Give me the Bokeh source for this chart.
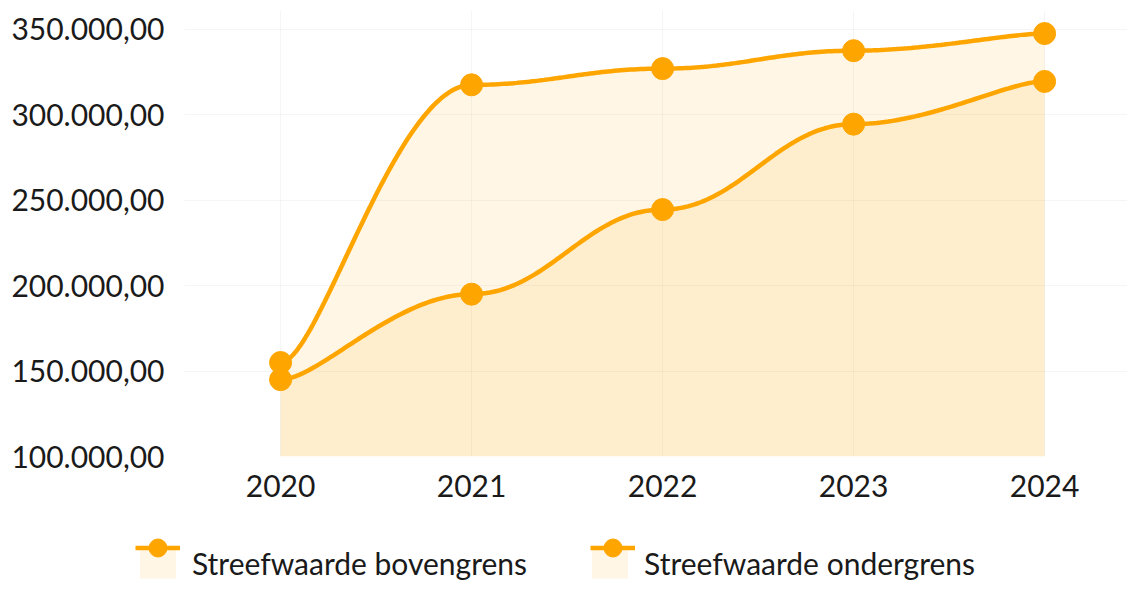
import numpy as np
from bokeh.plotting import figure
from bokeh.layouts import column
from bokeh.models import Range1d, FixedTicker, Legend, LegendItem, ColumnDataSource
from bokeh.embed import file_html
from bokeh.resources import INLINE

# ---- data ----
years = [2020, 2021, 2022, 2023, 2024]
year_labels = ["2020", "2021", "2022", "2023", "2024"]
bovengrens = [155000, 317500, 327000, 337500, 347500]
ondergrens = [145000, 195000, 244500, 294500, 319500]
y_ticks = [100000, 150000, 200000, 250000, 300000, 350000]
y_tick_labels = ["100.000,00", "150.000,00", "200.000,00", "250.000,00", "300.000,00", "350.000,00"]
series_names = ["Streefwaarde bovengrens", "Streefwaarde ondergrens"]
baseline = 100000

ORANGE = "#ffa500"
FONT = "Lato"


def tension_curve(xs, ys, tension_x=0.8, n=60):
    """Smoothed rendering (horizontal-tension spline) through the data points."""
    xs = np.asarray(xs, float)
    ys = np.asarray(ys, float)
    N = len(xs)
    T = 1 - tension_x
    px, py = [], []
    for i in range(N - 1):
        i0 = max(i - 1, 0)
        i3 = min(i + 2, N - 1)
        x0, y0 = xs[i], ys[i]
        x3, y3 = xs[i + 1], ys[i + 1]
        x1 = x0 + T * (xs[i + 1] - xs[i0])
        x2 = x3 - T * (xs[i3] - xs[i])
        y1, y2 = y0, y3
        t = np.linspace(0, 1, n, endpoint=(i == N - 2))
        a, b, c, d = (1 - t) ** 3, 3 * (1 - t) ** 2 * t, 3 * (1 - t) * t ** 2, t ** 3
        px.extend(a * x0 + b * x1 + c * x2 + d * x3)
        py.extend(a * y0 + b * y1 + c * y2 + d * y3)
    return np.array(px), np.array(py)


p = figure(
    frame_width=943, frame_height=446,
    min_border_left=184, min_border_right=0, min_border_top=10, min_border_bottom=70,
    x_range=Range1d(2019.497, 2024.434), y_range=Range1d(100000, 361000),
    output_backend="svg", toolbar_location=None,
)
p.outline_line_color = None
p.background_fill_color = "white"

# grid
p.xgrid.ticker = FixedTicker(ticks=years)
p.ygrid.ticker = FixedTicker(ticks=y_ticks)
for g in (p.xgrid, p.ygrid):
    g.grid_line_color = "#000000"
    g.grid_line_alpha = 0.04
    g.grid_line_width = 1

# axes
p.xaxis.ticker = FixedTicker(ticks=years)
p.xaxis.major_label_overrides = {y: l for y, l in zip(years, year_labels)}
p.yaxis.ticker = FixedTicker(ticks=y_ticks)
p.yaxis.major_label_overrides = {t: l for t, l in zip(y_ticks, y_tick_labels)}
for ax in (p.xaxis, p.yaxis):
    ax.axis_line_color = None
    ax.major_tick_line_color = None
    ax.minor_tick_line_color = None
    ax.major_tick_out = 0
    ax.major_tick_in = 0
    ax.major_label_text_font = FONT
    ax.major_label_text_font_size = "30px"
    ax.major_label_text_color = "#1a1a1a"
p.yaxis.major_label_standoff = 20
p.xaxis.major_label_standoff = 18

sources = []
for vals in [bovengrens, ondergrens]:
    cx, cy = tension_curve(years, vals)
    sources.append(ColumnDataSource(dict(x=cx, y=cy, y0=np.full_like(cy, baseline))))

for src in sources:
    p.varea(x="x", y1="y0", y2="y", source=src, fill_color=ORANGE, fill_alpha=0.1)
for src in sources:
    p.line(x="x", y="y", source=src, line_color=ORANGE, line_width=4.5)
for vals in [bovengrens, ondergrens]:
    p.scatter(x=years, y=vals, size=22, marker="circle", fill_color=ORANGE, line_color=ORANGE)

# ---- legend strip (legend glyph renderers kept outside the visible range) ----
lg = figure(
    width=1127, height=56, min_border=0, x_range=Range1d(0, 1), y_range=Range1d(0, 1),
    x_axis_type=None, y_axis_type=None, output_backend="svg", toolbar_location=None,
)
lg.outline_line_color = None
lg.xgrid.visible = False
lg.ygrid.visible = False
off = dict(x=[5, 6], y=[5, 5], y0=[5, 5])
fill_items, mark_items = [], []
for name in series_names:
    src = ColumnDataSource(off)
    a = lg.varea(x="x", y1="y0", y2="y", source=src, fill_color=ORANGE, fill_alpha=0.1)
    l = lg.line(x="x", y="y", source=src, line_color=ORANGE, line_width=4.5)
    d = lg.scatter(x="x", y="y", source=src, size=22, marker="circle", fill_color=ORANGE, line_color=ORANGE)
    fill_items.append(LegendItem(label=name, renderers=[a]))
    mark_items.append(LegendItem(label=" ", renderers=[l, d]))

legend_fill = Legend(
    items=fill_items, orientation="horizontal", location=(135, 0),
    glyph_width=45, glyph_height=38, label_standoff=12, spacing=60,
    padding=0, margin=0, border_line_color=None, background_fill_alpha=0,
    label_text_font=FONT, label_text_font_size="30px", label_text_color="#1a1a1a",
)
lg.add_layout(legend_fill)

# line + marker drawn along the top edge of each legend box
legend_mark = Legend(
    items=mark_items, orientation="horizontal", location=(135, 12),
    glyph_width=45, glyph_height=45, label_standoff=12, spacing=60,
    label_width=338, label_height=20,
    padding=0, margin=0, border_line_color=None, background_fill_alpha=0,
    label_text_font=FONT, label_text_font_size="1px", label_text_alpha=0,
)
lg.add_layout(legend_mark)

layout = column(column(p), column(lg), spacing=0)
open("out.html", "w").write(file_html(layout, INLINE))
